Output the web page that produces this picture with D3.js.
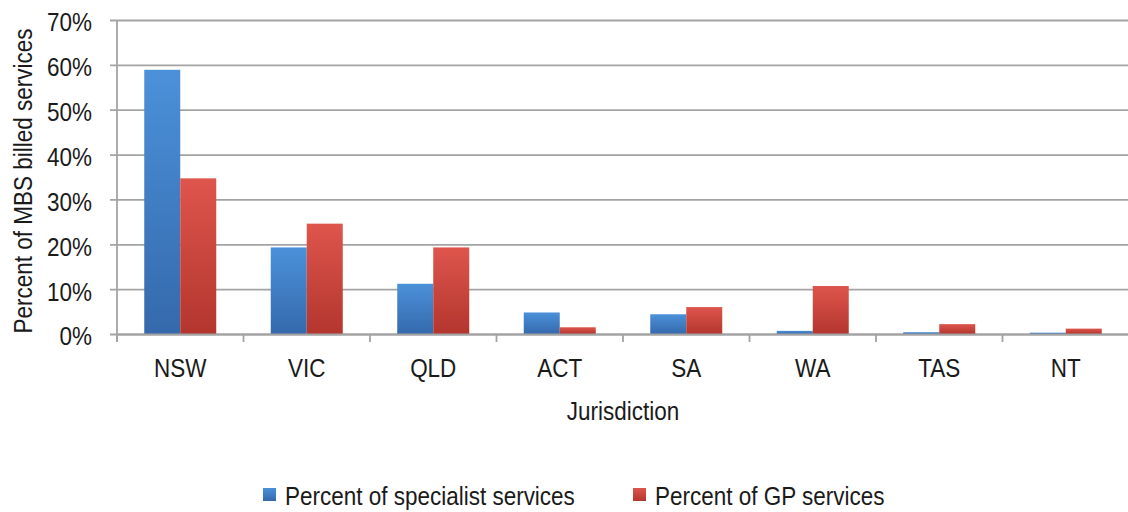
<!DOCTYPE html>
<html lang="en">
<head>
    <meta charset="UTF-8">
    <title>MBS billed services by jurisdiction</title>
    <style>
        body {
            margin: 0;
            background: #fff;
        }
        svg text {
            font-family: "Liberation Sans", Arial, sans-serif;
            fill: #1a1a1a;
        }
    </style>
</head>
<body>

<div id="chart"></div>

<script src="https://d3js.org/d3.v7.min.js"></script>
<script>
    // data
    const jurisdictions = ["NSW", "VIC", "QLD", "ACT", "SA", "WA", "TAS", "NT"];
    const specialistPct = [0.589, 0.193, 0.112, 0.048, 0.044, 0.007, 0.004, 0.003];
    const gpPct = [0.347, 0.246, 0.193, 0.015, 0.060, 0.107, 0.022, 0.012];
    const seriesNames = ["Percent of specialist services", "Percent of GP services"];
    const yTicks = [0, 0.1, 0.2, 0.3, 0.4, 0.5, 0.6, 0.7];

    const width = 1128;
    const height = 512;
    const margin = { top: 20, right: 0, bottom: 178, left: 117 };

    // the original font is tall and a bit condensed
    const fs = 26;
    const sx = 0.865;

    const svg = d3.select("#chart")
        .append("svg")
        .attr("width", width)
        .attr("height", height);

    // gradients for the bars (light at the top, darker at the base)
    const defs = svg.append("defs");
    const grads = [
        { id: "gBlue", top: "#4b91da", bottom: "#3569ac" },
        { id: "gRed", top: "#de554c", bottom: "#b3362e" }
    ];
    grads.forEach(g => {
        const lg = defs.append("linearGradient")
            .attr("id", g.id)
            .attr("x1", 0).attr("y1", 0)
            .attr("x2", 0).attr("y2", 1);
        lg.append("stop").attr("offset", "0%").attr("stop-color", g.top);
        lg.append("stop").attr("offset", "100%").attr("stop-color", g.bottom);
    });

    const x = d3.scaleBand()
        .domain(jurisdictions)
        .range([margin.left, margin.left + 126.5 * jurisdictions.length])
        .paddingInner(0)
        .paddingOuter(0);

    // two bars of ~36px each, centred in the category
    const inner = d3.scaleBand()
        .domain([0, 1])
        .range([0, x.bandwidth()])
        .paddingInner(0)
        .paddingOuter(0.757);

    const y = d3.scaleLinear()
        .domain([0, 0.7])
        .range([height - margin.bottom, margin.top]);

    // gridlines + y axis
    const yAxis = d3.axisLeft(y)
        .tickValues(yTicks)
        .tickFormat(d3.format(".0%"))
        .tickSize(-(width - margin.left))
        .tickPadding(29);

    const gy = svg.append("g")
        .attr("transform", `translate(${margin.left},0)`)
        .call(yAxis);
    gy.select(".domain").remove();
    gy.selectAll(".tick line")
        .attr("x1", -7)
        .attr("stroke", "#a3a3a3")
        .attr("stroke-width", 1.8);
    gy.selectAll(".tick text")
        .attr("font-size", fs)
        .attr("dy", "0.42em")
        .attr("transform", `scale(${sx},1)`);

    // vertical axis line
    svg.append("line")
        .attr("x1", margin.left).attr("x2", margin.left)
        .attr("y1", y(0.7)).attr("y2", y(0) + 8)
        .attr("stroke", "#a3a3a3")
        .attr("stroke-width", 1.8);

    // bars
    const series = [specialistPct, gpPct];
    const fills = ["url(#gBlue)", "url(#gRed)"];
    series.forEach((vals, si) => {
        svg.append("g")
            .selectAll("rect")
            .data(vals)
            .enter()
            .append("rect")
            .attr("x", (d, i) => x(jurisdictions[i]) + inner(si))
            .attr("y", d => y(d))
            .attr("width", inner.bandwidth())
            .attr("height", d => y(0) - y(d))
            .attr("fill", fills[si]);
    });

    // x axis
    const xAxis = d3.axisBottom(x)
        .tickSize(0)
        .tickPadding(25);
    const gx = svg.append("g")
        .attr("transform", `translate(0,${y(0)})`)
        .call(xAxis);
    gx.select(".domain")
        .attr("stroke", "#a3a3a3")
        .attr("stroke-width", 1.8);
    gx.selectAll(".tick text")
        .attr("font-size", fs)
        .attr("transform", `scale(${sx},1)`);

    // category separator ticks
    svg.append("g")
        .selectAll("line")
        .data(jurisdictions)
        .enter()
        .append("line")
        .attr("x1", d => x(d))
        .attr("x2", d => x(d))
        .attr("y1", y(0))
        .attr("y2", y(0) + 8)
        .attr("stroke", "#a3a3a3")
        .attr("stroke-width", 1.8);

    // axis titles
    svg.append("text")
        .attr("transform", `translate(623,420) scale(${sx},1)`)
        .attr("text-anchor", "middle")
        .attr("font-size", fs)
        .text("Jurisdiction");

    svg.append("text")
        .attr("transform", `translate(32,181) rotate(-90) scale(${sx},1)`)
        .attr("text-anchor", "middle")
        .attr("font-size", fs)
        .text("Percent of MBS billed services");

    // legend
    const legendX = [263, 633];
    const legend = svg.append("g");
    seriesNames.forEach((name, i) => {
        legend.append("rect")
            .attr("x", legendX[i])
            .attr("y", 488)
            .attr("width", 13)
            .attr("height", 13)
            .attr("fill", fills[i]);
        legend.append("text")
            .attr("transform", `translate(${legendX[i] + 22},505) scale(${sx},1)`)
            .attr("font-size", fs)
            .text(name);
    });
</script>

</body>
</html>
